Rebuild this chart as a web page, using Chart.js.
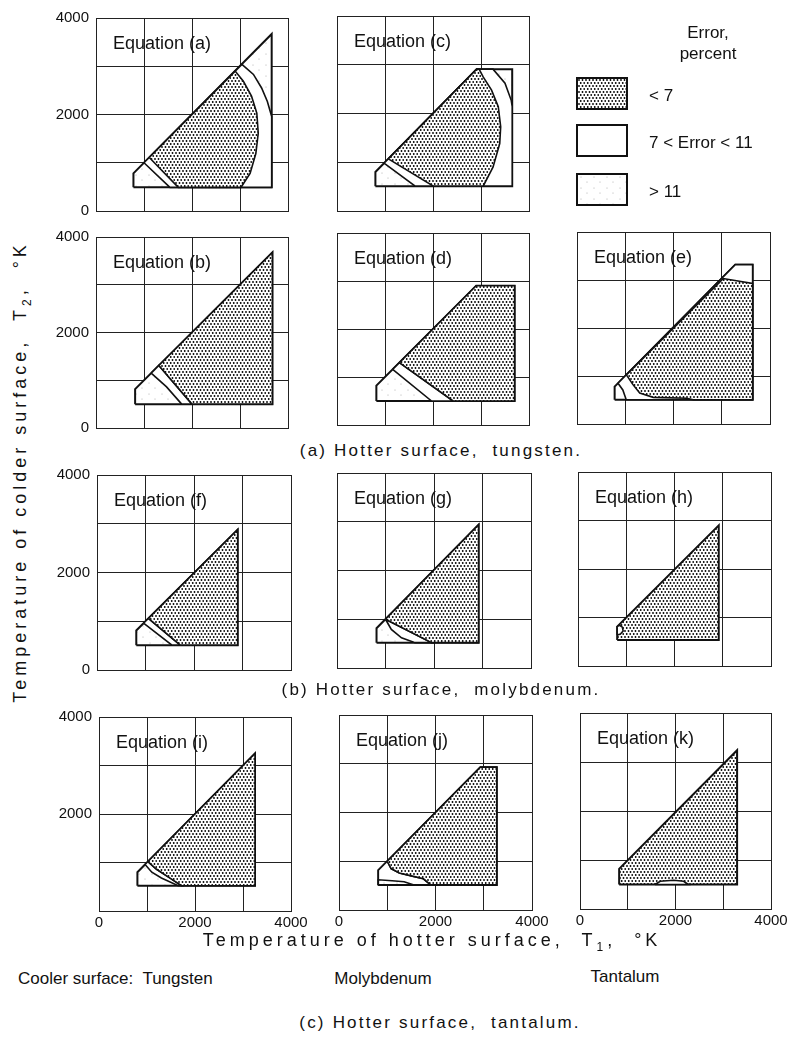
<!DOCTYPE html>
<html>
<head>
<meta charset="utf-8">
<script src="https://cdn.jsdelivr.net/npm/chart.js@4.4.0/dist/chart.umd.min.js"></script>
<style>
  body { margin: 0; background: #fff; width: 789px; height: 1043px; position: relative; overflow: hidden;
         font-family: "Liberation Sans", Arial, sans-serif; color: #111; }
  canvas { position: absolute; }
  .t { position: absolute; white-space: nowrap; font-size: 17px; line-height: 1; }
  .c { transform: translate(-50%, -50%); }
  .box { position: absolute; width: 52px; height: 33px; border: 2px solid #111; box-sizing: border-box; }
</style>
</head>
<body>

<script>
// grid and tick labels (K)
const gridTicks = [0, 1000, 2000, 3000, 4000];
const labelledTicks = [0, 2000, 4000];

// error regions, points are [T1, T2] in K
// (a) hotter tungsten / cooler tungsten
const aOuter = [[780, 490], [3660, 490], [3660, 3670], [780, 780]];
const aMid = [[1000, 1000], [1540, 490], [3660, 490], [3660, 1960], [3570, 2270], [3450, 2550], [3280, 2830], [3040, 3040]];
const aLow = [[1110, 1110], [1715, 490], [3020, 490], [3210, 780], [3330, 1190], [3380, 1610], [3350, 2030], [3240, 2380], [3070, 2690], [2900, 2900]];
// (c)
const cOuter = [[800, 510], [3650, 510], [3650, 2910], [2910, 2910], [800, 800]];
const cMid = [[980, 980], [1630, 510], [3650, 510], [3650, 2140], [3630, 2270], [3500, 2620], [3250, 2910], [2910, 2910]];
const cLow = [[1070, 1070], [2010, 510], [3045, 510], [3250, 900], [3390, 1380], [3410, 1730], [3360, 2140], [3220, 2480], [3045, 2750], [2960, 2910], [2910, 2910]];
// (b)
const bOuter = [[815, 500], [3675, 500], [3675, 3675], [815, 815]];
const bMid = [[1150, 1150], [1470, 860], [1785, 500], [2000, 500], [1310, 1310]];
const bLow = [[1310, 1310], [2000, 500], [3675, 500], [3675, 3675]];
// (d)
const dOuter = [[820, 500], [3700, 500], [3700, 2900], [2900, 2900], [820, 820]];
const dMid = [[1160, 1160], [1970, 500], [2420, 500], [1300, 1300]];
const dLow = [[1300, 1300], [2420, 500], [3700, 500], [3700, 2900], [2900, 2900]];
// (e)
const eOuter = [[780, 505], [3640, 505], [3640, 3320], [3280, 3320], [780, 780]];
const eMid = [[850, 850], [950, 710], [1020, 505], [3640, 505], [3640, 3320], [3280, 3320]];
const eLow = [[1024, 1024], [1160, 820], [1300, 645], [1580, 555], [2270, 535], [2410, 505], [3640, 505], [3640, 2930], [3030, 3030]];
// (f)
const fOuter = [[810, 510], [2900, 510], [2900, 2880], [810, 810]];
const fMid = [[960, 960], [1546, 510], [1718, 510], [1060, 1060]];
const fLow = [[1060, 1060], [1718, 510], [2900, 510], [2900, 2880]];
// (g)
const gOuter = [[815, 520], [2920, 520], [2920, 2940], [815, 815]];
const gMid = [[1000, 1000], [1120, 790], [1330, 620], [1610, 520], [1950, 520]];
const gLow = [[1000, 1000], [1950, 520], [2920, 520], [2920, 2940]];
// (h)
const hOuter = [[812, 535], [2917, 535], [2917, 2900], [812, 812]];
const hMid = [[812, 640], [880, 660], [935, 720], [920, 800], [860, 840], [812, 812]];
// (i)
const iOuter = [[800, 520], [3250, 520], [3250, 3250], [800, 800]];
const iMid = [[960, 960], [1100, 800], [1300, 680], [1650, 520], [1720, 520], [1450, 700], [1200, 860], [1020, 1020]];
const iLow = [[1020, 1020], [1200, 860], [1450, 700], [1720, 520], [3250, 520], [3250, 3250]];
// (j)
const jOuter = [[815, 515], [3270, 515], [3270, 2930], [2930, 2930], [815, 815]];
const jMid = [[1000, 1000], [1080, 850], [1250, 760], [1500, 700], [1750, 640], [1900, 515], [815, 515], [815, 815]];
const jHi = [[815, 515], [815, 620], [1100, 600], [1350, 580], [1550, 515]];
const jLow = [[1000, 1000], [1080, 850], [1250, 760], [1500, 700], [1750, 640], [1900, 515], [3270, 515], [3270, 2930], [2930, 2930]];
// (k)
const kOuter = [[820, 500], [3290, 500], [3290, 3240], [820, 820]];
const kMid = [[1570, 500], [1680, 566], [1960, 586], [2170, 566], [2270, 500]];

// fill patterns
function makePattern(w, h, dots, r, col) {
  const c = document.createElement('canvas');
  c.width = w; c.height = h;
  const g = c.getContext('2d');
  g.fillStyle = '#fff';
  g.fillRect(0, 0, w, h);
  g.fillStyle = col;
  dots.forEach(d => { g.beginPath(); g.arc(d[0], d[1], r, 0, Math.PI * 2); g.fill(); });
  return c;
}
const dotCanvas = makePattern(7, 6, [[1, 1], [4.5, 1], [2.75, 4], [6.25, 4]], 0.9, '#000');
const speckCanvas = makePattern(13, 11, [[3, 2], [9, 7]], 0.5, '#999');
const patCtx = document.createElement('canvas').getContext('2d');
const fills = {
  low: patCtx.createPattern(dotCanvas, 'repeat'),
  mid: '#fff',
  hi: patCtx.createPattern(speckCanvas, 'repeat')
};

const panels = [
  { title: 'Equation (a)', left: 96, top: 18, w: 192, h: 193, yLab: true, xLab: false, regions: [[aOuter, 'hi'], [aMid, 'mid'], [aLow, 'low']] },
  { title: 'Equation (c)', left: 337, top: 16, w: 192, h: 195, yLab: false, xLab: false, regions: [[cOuter, 'hi'], [cMid, 'mid'], [cLow, 'low']] },
  { title: 'Equation (b)', left: 96, top: 237, w: 192, h: 191, yLab: true, xLab: false, regions: [[bOuter, 'hi'], [bMid, 'mid'], [bLow, 'low']] },
  { title: 'Equation (d)', left: 337, top: 233, w: 192, h: 192, yLab: false, xLab: false, regions: [[dOuter, 'hi'], [dMid, 'mid'], [dLow, 'low']] },
  { title: 'Equation (e)', left: 577, top: 232, w: 193, h: 192, yLab: false, xLab: false, regions: [[eOuter, 'hi'], [eMid, 'mid'], [eLow, 'low']] },
  { title: 'Equation (f)', left: 97, top: 475, w: 194, h: 195, yLab: true, xLab: false, regions: [[fOuter, 'hi'], [fMid, 'mid'], [fLow, 'low']] },
  { title: 'Equation (g)', left: 337, top: 473, w: 194, h: 195, yLab: false, xLab: false, regions: [[gOuter, 'hi'], [gMid, 'mid'], [gLow, 'low']] },
  { title: 'Equation (h)', left: 578, top: 472, w: 193, h: 194, yLab: false, xLab: false, regions: [[hOuter, 'low'], [hMid, 'mid']] },
  { title: 'Equation (i)', left: 99, top: 717, w: 192, h: 194, yLab: true, xLab: true, regions: [[iOuter, 'hi'], [iMid, 'mid'], [iLow, 'low']] },
  { title: 'Equation (j)', left: 339, top: 715, w: 193, h: 195, yLab: false, xLab: true, regions: [[jOuter, 'hi'], [jMid, 'mid'], [jHi, 'hi'], [jLow, 'low']] },
  { title: 'Equation (k)', left: 580, top: 713, w: 191, h: 196, yLab: false, xLab: true, regions: [[kOuter, 'low'], [kMid, 'mid']] }
];

function fixTicks(scale) {
  scale.ticks = gridTicks.map(v => ({ value: v }));
}

function makeChart(p) {
  const yW = p.yLab ? 44 : 0;
  const xH = p.xLab ? 24 : 0;
  const padL = 10, padT = 10, padR = 22, padB = 10;
  const cv = document.createElement('canvas');
  cv.width = p.w + yW + padL + padR;
  cv.height = p.h + padT + xH + padB;
  cv.style.left = (p.left - yW - padL) + 'px';
  cv.style.top = (p.top - padT) + 'px';
  document.body.appendChild(cv);

  const datasets = p.regions.map((r, i) => ({
    data: r[0].concat([r[0][0]]).map(pt => ({ x: pt[0], y: pt[1] })),
    showLine: true,
    fill: 'shape',
    backgroundColor: fills[r[1]],
    borderColor: '#111',
    borderWidth: i === 0 ? 2 : 1.6,
    pointRadius: 0,
    tension: 0,
    order: -i
  }));

  const tickFont = { family: '"Liberation Sans", sans-serif', size: 15 };
  new Chart(cv, {
    type: 'scatter',
    data: { datasets },
    options: {
      responsive: false,
      animation: false,
      layout: { padding: { left: padL, top: padT, right: padR, bottom: padB } },
      plugins: { legend: { display: false }, tooltip: { enabled: false } },
      scales: {
        x: {
          type: 'linear', min: gridTicks[0], max: gridTicks[gridTicks.length - 1], z: 1,
          afterBuildTicks: fixTicks,
          afterFit: s => { s.height = xH; s.paddingLeft = 0; s.paddingRight = 0; },
          grid: { color: '#222', lineWidth: 1, drawTicks: false },
          border: { color: '#222', width: 1 },
          ticks: {
            display: p.xLab, padding: 3, color: '#111', font: tickFont, maxRotation: 0, autoSkip: false,
            callback: v => (labelledTicks.includes(v) ? String(v) : '')
          }
        },
        y: {
          type: 'linear', min: gridTicks[0], max: gridTicks[gridTicks.length - 1], z: 1,
          afterBuildTicks: fixTicks,
          afterFit: s => { s.width = yW; s.paddingTop = 0; s.paddingBottom = 0; },
          grid: { color: '#222', lineWidth: 1, drawTicks: false },
          border: { color: '#222', width: 1 },
          ticks: {
            display: p.yLab, padding: 7, color: '#111', font: tickFont, autoSkip: false,
            callback: v => (labelledTicks.includes(v) && !(p.xLab && v === 0) ? String(v) : '')
          }
        }
      }
    }
  });

  const t = document.createElement('div');
  t.className = 't';
  t.textContent = p.title;
  t.style.fontSize = '18px';
  t.style.left = (p.left + 17) + 'px';
  t.style.top = (p.top + 16) + 'px';
  document.body.appendChild(t);
}

panels.forEach(makeChart);

function addText(html, x, y, cls, extra) {
  const d = document.createElement('div');
  d.className = 't ' + (cls || '');
  d.innerHTML = html;
  d.style.left = x + 'px';
  d.style.top = y + 'px';
  if (extra) Object.assign(d.style, extra);
  document.body.appendChild(d);
}

// legend
addText('Error,', 708, 32, 'c');
addText('percent', 708, 53, 'c');
[[77, dotCanvas], [124, null], [173, speckCanvas]].forEach(b => {
  const d = document.createElement('div');
  d.className = 'box';
  d.style.left = '576px';
  d.style.top = b[0] + 'px';
  if (b[1]) d.style.backgroundImage = 'url(' + b[1].toDataURL() + ')';
  else d.style.background = '#fff';
  document.body.appendChild(d);
});
addText('&lt; 7', 649, 87);
addText('7 &lt; Error &lt; 11', 649, 134);
addText('&gt; 11', 649, 183);

// captions and axis titles
const wide = { letterSpacing: '2.2px' };
addText('(a) Hotter surface,&nbsp; tungsten.', 441, 450, 'c', wide);
addText('(b) Hotter surface,&nbsp; molybdenum.', 441, 689, 'c', wide);
addText('Temperature of hotter surface,&nbsp; T<sub style="font-size:12px">1</sub>,&nbsp; °K', 432, 942, 'c',
  { letterSpacing: '4px', fontSize: '18px' });
addText('Temperature of colder surface,&nbsp; T<sub style="font-size:12px">2</sub>,&nbsp; °K', 22, 472, '',
  { transform: 'translate(-50%, -50%) rotate(-90deg)', letterSpacing: '4px', fontSize: '18px' });
addText('Cooler surface:&nbsp; Tungsten', 18, 970);
addText('Molybdenum', 383, 978, 'c');
addText('Tantalum', 625, 976, 'c');
addText('(c) Hotter surface,&nbsp; tantalum.', 440, 1022, 'c', wide);
</script>
</body>
</html>
